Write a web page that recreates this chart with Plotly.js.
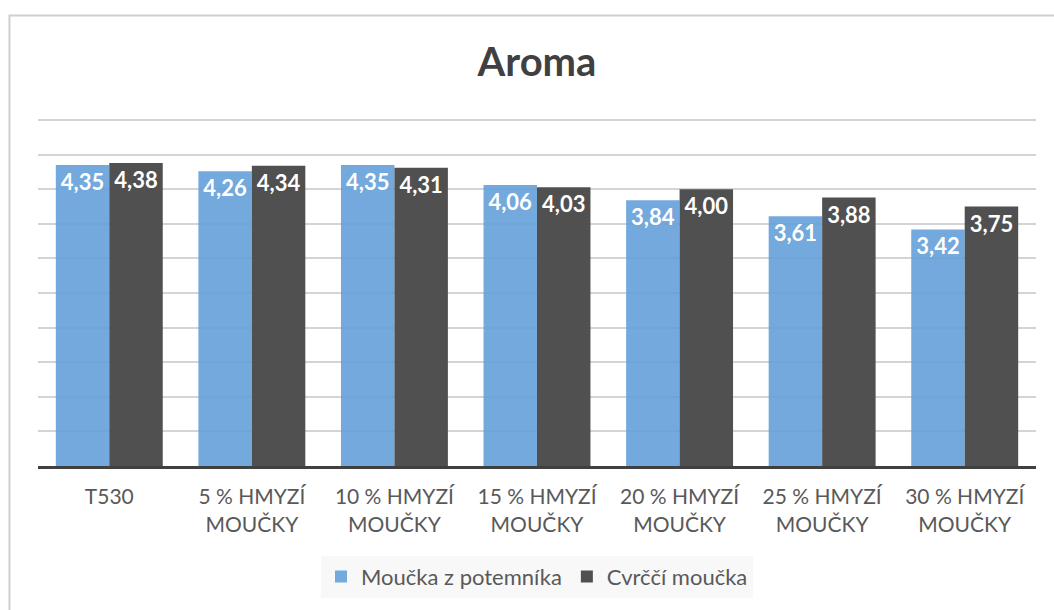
<!DOCTYPE html>
<html>
<head>
<meta charset="utf-8">
<script src="https://cdn.plot.ly/plotly-3.0.1.min.js"></script>
<style>
  html, body { margin: 0; padding: 0; background: #ffffff; }
  #chart { width: 1054px; height: 610px; }
</style>
</head>
<body>
<div id="chart"></div>
<script>
const categories = ["T530", "5 % HMYZÍ<br>MOUČKY", "10 % HMYZÍ<br>MOUČKY", "15 % HMYZÍ<br>MOUČKY", "20 % HMYZÍ<br>MOUČKY", "25 % HMYZÍ<br>MOUČKY", "30 % HMYZÍ<br>MOUČKY"];
const seriesNames = ["Moučka z potemníka", "Cvrččí moučka"];
const potemnik = [4.35, 4.26, 4.35, 4.06, 3.84, 3.61, 3.42];
const cvrcci = [4.38, 4.34, 4.31, 4.03, 4.00, 3.88, 3.75];

const FONT = "Lato, 'Open Sans', sans-serif";

const labelFont = { family: FONT, size: 22, color: "#ffffff", weight: "bold" };

const traces = [
  {
    type: "bar",
    name: seriesNames[0],
    x: categories,
    y: potemnik,
    marker: { color: "rgba(100,160,216,0.9)" },
    texttemplate: "<b>%{y:.2f}</b>",
    textposition: "inside",
    insidetextanchor: "end",
    textangle: 0,
    insidetextfont: labelFont,
    hoverinfo: "skip"
  },
  {
    type: "bar",
    name: seriesNames[1],
    x: categories,
    y: cvrcci,
    marker: { color: "#505050" },
    texttemplate: "<b>%{y:.2f}</b>",
    textposition: "inside",
    insidetextanchor: "end",
    textangle: 0,
    insidetextfont: labelFont,
    hoverinfo: "skip"
  }
];

const layout = {
  width: 1054,
  height: 610,
  separators: ", ",
  paper_bgcolor: "#ffffff",
  plot_bgcolor: "#ffffff",
  margin: { l: 38, r: 18, t: 118, b: 144, pad: 0 },
  font: { family: FONT, color: "#595959", size: 21 },
  title: {
    text: "<b>Aroma</b>",
    font: { family: FONT, size: 40, color: "#404040" },
    x: 0.5, xanchor: "center", xref: "paper",
    y: 0.898, yanchor: "middle", yref: "container"
  },
  barmode: "group",
  bargap: 0.25,
  bargroupgap: 0,
  showlegend: true,
  legend: {
    orientation: "h",
    x: 0.5, xanchor: "center",
    y: -0.258, yanchor: "top",
    bgcolor: "#f8f8f8",
    font: { family: FONT, size: 22, color: "#595959" },
    itemwidth: 30,
    traceorder: "normal"
  },
  xaxis: {
    type: "category",
    showgrid: false,
    showline: true,
    linecolor: "#404040",
    linewidth: 3,
    ticks: "",
    ticklabelstandoff: 10,
    tickfont: { family: FONT, size: 21, color: "#595959" },
    automargin: false
  },
  yaxis: {
    range: [0, 5.03],
    dtick: 0.5,
    tick0: 0,
    showticklabels: false,
    showgrid: true,
    gridcolor: "#d4d4d4",
    gridwidth: 2,
    zeroline: false,
    showline: false,
    ticks: "",
    automargin: false
  },
  shapes: [
    {
      type: "path",
      xref: "paper", yref: "paper",
      path: "M -0.0286,-0.45 L -0.0286,1.2945 L 1.03,1.2945",
      line: { color: "#d0d0d0", width: 2 }
    }
  ]
};

Plotly.newPlot("chart", traces, layout, { displayModeBar: false, staticPlot: true });
</script>
</body>
</html>
